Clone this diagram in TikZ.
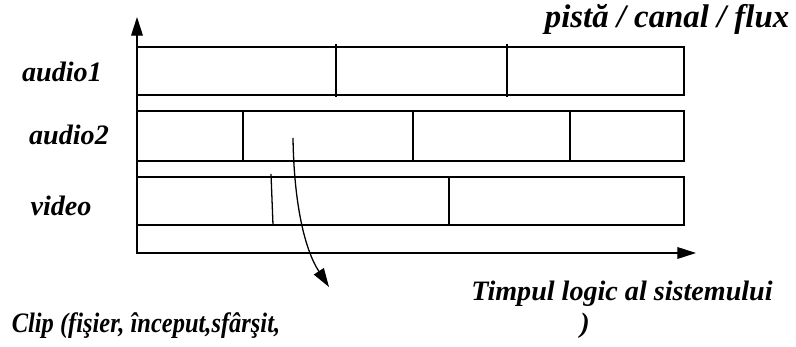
\documentclass[tikz,border=0pt]{standalone}
\usepackage{fontspec}
\setmainfont{Liberation Serif}
\usetikzlibrary{arrows.meta}

\begin{document}
\begin{tikzpicture}[x=0.03cm,y=-0.03cm,line width=1.1pt,
  lbl/.style={font=\fontsize{24}{28}\selectfont\bfseries\itshape,inner sep=0pt},
  tip/.style={-{Triangle[length=16pt,width=10pt]}}]
\useasboundingbox (0,0) rectangle (796,347);
% axes
\coordinate (o) at (137,254) ;
\coordinate (ytop) at (137,17) ;
\coordinate (xend) at (696,253) ;
\draw[tip] (o) to (ytop) ;
\draw[tip] (137,253) to (xend) ;
% tracks
\draw (137,47) rectangle (684,95) ;
\draw (137,111) rectangle (684,161) ;
\draw (137,177) rectangle (684,225) ;
\draw (336,44) to (336,97) ;
\draw (507,44) to (507,97) ;
\draw (243,111) to (243,161) ;
\draw (413,111) to (413,161) ;
\draw (570,111) to (570,161) ;
\draw (271,174) to (273,225) ;
\draw (449,177) to (449,225) ;
% labels
\node[lbl] (a1) at (62,72) {audio1} ;
\node[lbl] (a2) at (69,135) {audio2} ;
\node[lbl] (vid) at (61,206) {video} ;
\node[lbl,font=\fontsize{28}{32}\selectfont\bfseries\itshape] (pcf) at (667,19) {pistă / canal / flux} ;
\node[lbl] (tl) at (622,294) {Timpul logic al sistemului} ;
\node[lbl] (clip) at (146,326) {\scalebox{0.87}[1]{Clip (fişier, început,sfârşit,}} ;
\node[lbl] (par) at (585,326) {)} ;
% clip arrow
\coordinate (cs) at (293,138) ;
\coordinate (ce) at (329,287) ;
\draw[tip] (cs) .. controls (294,205) and (305,250) .. (ce) ;
\end{tikzpicture}
\end{document}
